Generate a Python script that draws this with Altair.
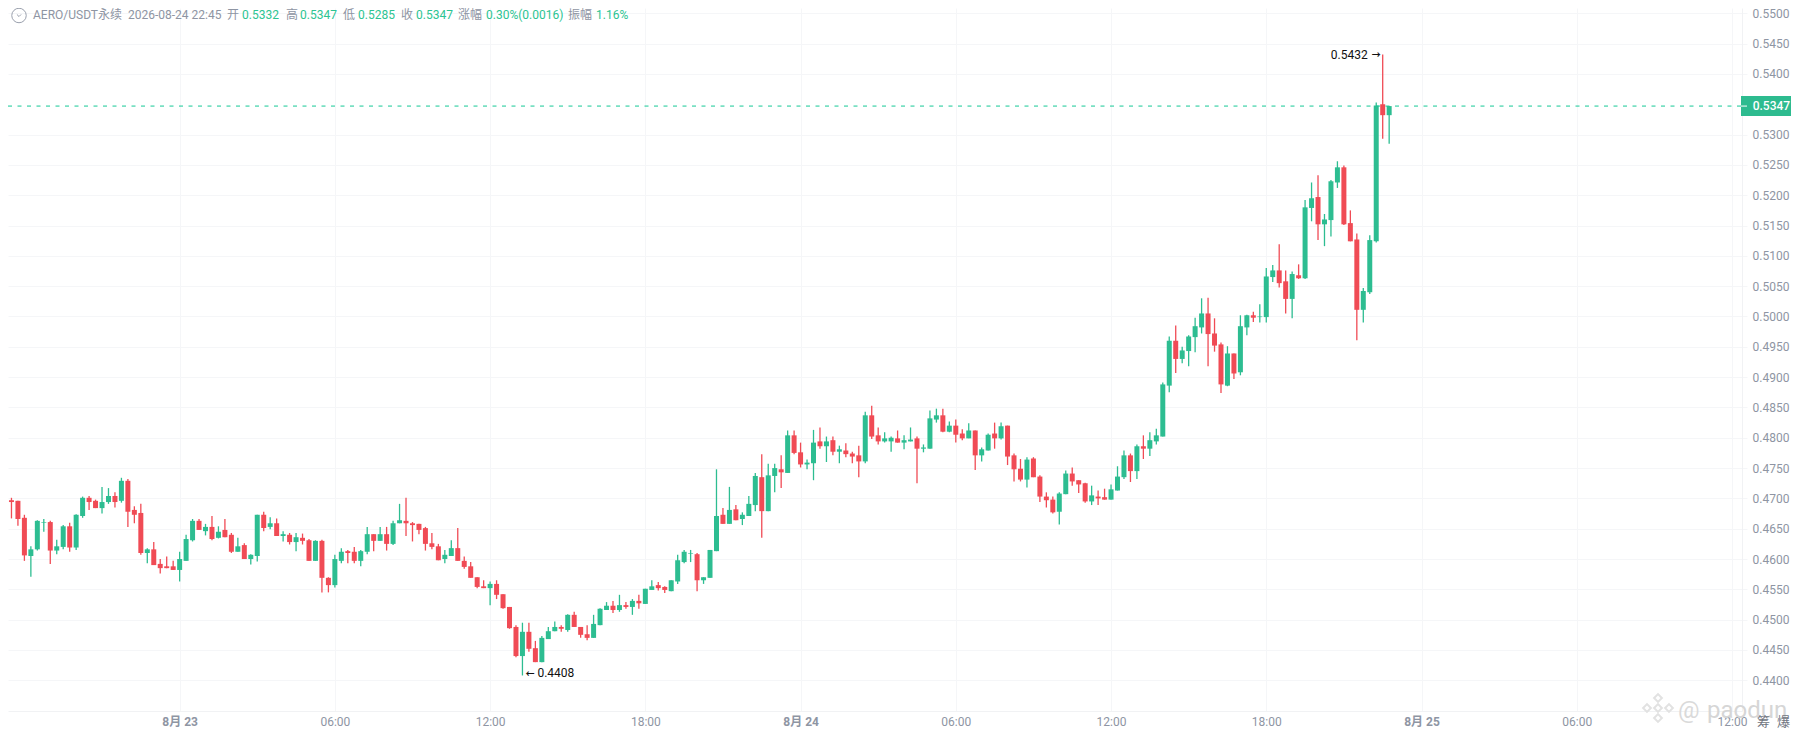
import altair as alt
import pandas as pd

# Prices in units of 0.0001 USDT, one 15-minute candle per entry
OPEN = [4700,4697,4696,4668,4605,4616,4660,4661,4614,4620,
4654,4619,4671,4701,4696,4684,4694,4704,4696,4729,
4681,4676,4610,4616,4592,4588,4588,4582,4597,4631,
4663,4646,4653,4635,4648,4640,4612,4623,4600,4605,
4673,4653,4659,4638,4640,4628,4635,4631,4597,4630,
4569,4557,4597,4613,4612,4597,4612,4641,4630,4641,
4625,4659,4663,4659,4658,4651,4626,4621,4600,4605,
4618,4597,4588,4570,4555,4552,4559,4542,4521,4488,
4440,4480,4453,4430,4468,4481,4488,4483,4508,4488,
4476,4470,4491,4516,4523,4516,4524,4521,4531,4526,
4549,4557,4554,4547,4563,4595,4609,4608,4565,4569,
4613,4673,4658,4682,4666,4671,4689,4735,4679,4737,
4748,4742,4804,4776,4756,4758,4794,4786,4796,4777,
4779,4774,4771,4761,4837,4804,4794,4794,4799,4792,
4794,4799,4782,4782,4830,4837,4810,4820,4807,4799,
4812,4771,4779,4807,4799,4820,4771,4749,4731,4766,
4736,4703,4698,4678,4707,4741,4730,4725,4695,4703,
4702,4698,4713,4735,4771,4745,4786,4782,4794,4802,
4886,4960,4930,4943,4966,4982,5005,4972,4954,4886,
4939,4908,4982,5002,4999,4999,5065,5076,5058,5029,
5068,5063,5179,5197,5152,5159,5221,5246,5154,5127,
5011,5040,5124,5350,5332]
HIGH = [4717,4701,4696,4673,4621,4664,4666,4663,4632,4656,
4660,4674,4703,4704,4698,4719,4717,4710,4734,4732,
4687,4691,4618,4628,4600,4604,4597,4612,4640,4666,
4666,4658,4671,4654,4666,4643,4635,4626,4608,4673,
4678,4669,4667,4646,4643,4643,4642,4633,4631,4632,
4570,4607,4618,4615,4620,4615,4653,4641,4653,4653,
4663,4691,4701,4661,4658,4653,4643,4625,4615,4631,
4651,4604,4595,4570,4565,4563,4565,4542,4521,4491,
4495,4495,4465,4473,4488,4497,4491,4509,4513,4488,
4491,4508,4519,4529,4531,4541,4529,4534,4541,4551,
4565,4562,4555,4565,4607,4615,4615,4610,4570,4615,
4748,4684,4719,4689,4677,4704,4742,4773,4757,4757,
4771,4812,4812,4792,4764,4813,4817,4802,4802,4787,
4791,4777,4787,4843,4853,4817,4809,4802,4812,4804,
4817,4802,4789,4845,4848,4848,4827,4830,4814,4824,
4812,4784,4807,4825,4825,4820,4774,4765,4768,4768,
4738,4710,4703,4710,4746,4751,4730,4726,4721,4713,
4716,4723,4753,4779,4774,4789,4804,4809,4815,4891,
4967,4985,4950,4969,4998,5030,5031,4997,4957,4951,
4939,5002,5003,5008,5020,5080,5085,5119,5076,5074,
5086,5192,5221,5233,5169,5225,5256,5249,5175,5137,
5047,5134,5353,5432,5347]
LOW = [4694,4667,4655,4597,4571,4614,4645,4592,4608,4616,
4612,4615,4668,4681,4684,4675,4691,4685,4693,4653,
4659,4607,4593,4590,4576,4585,4582,4563,4597,4629,
4648,4639,4631,4634,4636,4610,4612,4600,4591,4596,
4646,4649,4638,4629,4624,4613,4624,4597,4597,4545,
4545,4553,4593,4593,4593,4588,4608,4613,4630,4614,
4623,4659,4638,4629,4641,4614,4616,4598,4593,4605,
4597,4584,4569,4552,4552,4524,4534,4518,4485,4438,
4408,4447,4430,4430,4468,4481,4480,4480,4488,4470,
4466,4470,4491,4516,4511,4513,4518,4508,4518,4526,
4549,4548,4544,4547,4559,4593,4595,4547,4559,4569,
4613,4658,4658,4664,4656,4671,4679,4635,4679,4710,
4717,4742,4773,4751,4748,4730,4782,4760,4771,4758,
4768,4758,4735,4758,4798,4789,4792,4777,4792,4781,
4794,4725,4776,4782,4825,4809,4809,4792,4796,4799,
4747,4761,4779,4782,4797,4755,4728,4728,4718,4735,
4694,4685,4675,4657,4707,4721,4709,4693,4689,4689,
4698,4698,4713,4732,4727,4732,4765,4770,4789,4802,
4875,4907,4923,4918,4941,4972,4918,4942,4874,4885,
4897,4903,4969,4991,4990,4990,5057,5048,5005,4997,
5062,5062,5157,5126,5116,5132,5212,5151,5124,4961,
4990,5037,5122,5293,5285]
CLOSE = [4696,4694,4666,4606,4616,4663,4661,4614,4621,4654,
4619,4673,4701,4694,4684,4694,4704,4694,4729,4678,
4673,4610,4616,4590,4585,4585,4582,4600,4633,4663,
4648,4653,4633,4645,4636,4612,4621,4600,4607,4673,
4651,4659,4638,4641,4628,4636,4630,4597,4630,4569,
4557,4600,4612,4610,4597,4613,4641,4630,4641,4625,
4659,4664,4659,4656,4648,4625,4620,4598,4607,4618,
4597,4587,4569,4554,4552,4559,4541,4519,4486,4440,
4480,4452,4430,4470,4481,4488,4485,4508,4488,4475,
4470,4493,4518,4523,4516,4524,4521,4531,4527,4551,
4555,4552,4549,4565,4598,4612,4610,4565,4570,4615,
4671,4658,4681,4664,4673,4691,4737,4679,4738,4750,
4743,4804,4775,4756,4759,4792,4786,4794,4777,4781,
4773,4769,4761,4837,4802,4794,4799,4800,4792,4796,
4797,4782,4784,4832,4837,4810,4820,4805,4799,4812,
4771,4781,4805,4799,4819,4769,4748,4731,4764,4735,
4703,4697,4677,4708,4741,4728,4723,4695,4705,4700,
4698,4715,4736,4771,4745,4786,4782,4796,4804,4888,
4960,4930,4944,4967,4984,5005,4971,4952,4888,4939,
4906,4984,5002,4998,5000,5066,5076,5055,5029,5070,
5063,5180,5195,5152,5160,5223,5246,5152,5124,5011,
5042,5126,5348,5332,5347]

START = "2026-08-22 17:15"
LAST_PRICE = 0.5347
MAX_LABEL = "0.5432"
MIN_LABEL = "0.4408"
X_TICKS = ["2026-08-23 00:00","2026-08-23 06:00","2026-08-23 12:00","2026-08-23 18:00",
           "2026-08-24 00:00","2026-08-24 06:00","2026-08-24 12:00","2026-08-24 18:00",
           "2026-08-25 00:00","2026-08-25 06:00","2026-08-25 12:00"]
Y_TICKS = [0.44,0.445,0.45,0.455,0.46,0.465,0.47,0.475,0.48,0.485,0.49,0.495,
           0.50,0.505,0.51,0.515,0.52,0.525,0.53,0.54,0.545,0.55]
HEADER = [("AERO/USDT\u6c38\u7eed",33,"g"),("2026-08-24 22:45",128,"g"),
          ("\u5f00",227,"g"),("0.5332",242,"c"),("\u9ad8",286,"g"),("0.5347",300,"c"),
          ("\u4f4e",343,"g"),("0.5285",358,"c"),("\u6536",401,"g"),("0.5347",416,"c"),
          ("\u6da8\u5e45",458,"g"),("0.30%(0.0016)",486,"c"),("\u632f\u5e45",568,"g"),("1.16%",596,"c")]

GREEN, RED = "#2dbd91", "#f04b55"
GRAY, HGREEN = "#8e95a3", "#2cc492"
GRID = "#f5f6f8"
FONT = "Roboto, 'Noto Sans CJK SC', sans-serif"
M = 8  # page margin, to convert page pixels to chart pixels


def ms(s):
    return int(pd.Timestamp(s, tz="UTC").value // 10**6)


t = pd.date_range(START, periods=len(OPEN), freq="15min", tz="UTC")
df = pd.DataFrame({
    "t": t.strftime("%Y-%m-%dT%H:%M:%SZ"),
    "open": [v / 10000 for v in OPEN], "high": [v / 10000 for v in HIGH],
    "low": [v / 10000 for v in LOW], "close": [v / 10000 for v in CLOSE],
})
df["dir"] = ["up" if c >= o else "down" for o, c in zip(OPEN, CLOSE)]

xscale = alt.Scale(type="utc", domain=[ms("2026-08-22 17:21:58"), ms("2026-08-25 12:23:15")], padding=0)
yscale = alt.Scale(domain=[0.43494, 0.550874], nice=False, zero=False, padding=0)
colour = alt.Color("dir:N", scale=alt.Scale(domain=["up", "down"], range=[GREEN, RED]), legend=None)

x_axis = alt.Axis(
    values=[ms(v) for v in X_TICKS], title=None, grid=True, gridColor=GRID, gridWidth=1,
    labelExpr="utchours(datum.value)==0 ? '8\u6708 '+utcdate(datum.value) : utcFormat(datum.value,'%H:%M')",
    labelFontWeight=alt.expr("utchours(datum.value)==0 ? 'bold' : 'normal'"),
    labelColor=GRAY, labelFont=FONT, labelFontSize=12, labelPadding=5, tickSize=0,
    domainColor="#f1f2f4", labelOverlap=False, labelFlush=False,
)
y_axis = alt.Axis(
    values=Y_TICKS, orient="right", format=".4f", title=None, grid=True, gridColor=GRID, gridWidth=1,
    labelColor=GRAY, labelFont=FONT, labelFontSize=12, labelPadding=5, tickSize=5, tickColor=GRID,
    domainColor="#f1f2f4", labelOverlap=False, labelFlush=False,
)
X = alt.X("t:T", scale=xscale, axis=x_axis)


def Y(field):
    return alt.Y(field, scale=yscale, axis=y_axis)


base = alt.Chart(df)

wicks = base.mark_rule(strokeWidth=1.3, clip=True).encode(
    x=X, y=Y("low:Q"), y2="high:Q", color=colour)
bodies = base.mark_bar(size=5, clip=True).encode(
    x=X, y=Y("open:Q"), y2="close:Q", color=colour)

one = pd.DataFrame({"p": [LAST_PRICE]})
last_line = alt.Chart(one).mark_rule(color="#14c896", strokeWidth=1, strokeDash=[4, 5.5]).encode(
    x=alt.value(0), x2=alt.value(1734), y=Y("p:Q"))
box = alt.Chart(one).mark_rect(color="#2dbb8f").encode(
    x=alt.value(1741 - M), x2=alt.value(1791 - M), y=alt.value(96 - M), y2=alt.value(116 - M))
stub = alt.Chart(one).mark_rule(color="white", strokeWidth=1).encode(
    x=alt.value(1741 - M), x2=alt.value(1747 - M), y=Y("p:Q"))
box_text = alt.Chart(one).mark_text(text="0.5347", color="white", font=FONT, fontSize=12,
                                    fontWeight=500, align="left", baseline="middle").encode(
    x=alt.value(1752.7 - M), y=Y("p:Q"))

hi_row = df[df["high"] == df["high"].max()]
lo_row = df[df["low"] == df["low"].min()]


def note(row, field, txt, align, dx, dy, size=12, weight="normal"):
    return alt.Chart(row).mark_text(text=txt, color="#111", font=FONT, fontSize=size, fontWeight=weight,
                                    align=align, baseline="middle", dx=dx, dy=dy).encode(
        x=X, y=Y(field))


max_text = note(hi_row, "high:Q", MAX_LABEL, "right", -15, 0)
max_arrow = note(hi_row, "high:Q", "\u2192", "right", -2, 0, 9, "bold")
min_text = note(lo_row, "low:Q", MIN_LABEL, "left", 15, -2)
min_arrow = note(lo_row, "low:Q", "\u2190", "left", 3, -1, 9, "bold")


def label(txt, px, py, color=GRAY, size=12, weight="normal", opacity=1.0):
    return alt.Chart(one).mark_text(text=txt, color=color, font=FONT, fontSize=size, fontWeight=weight,
                                    opacity=opacity, align="left", baseline="middle").encode(
        x=alt.value(px - M), y=alt.value(py - M))


def symbol(shape, px, py, size, color, sw=1.0, filled=False):
    return alt.Chart(one).mark_point(shape=shape, size=size, color=color, strokeWidth=sw,
                                     filled=filled, opacity=1).encode(
        x=alt.value(px - M), y=alt.value(py - M))


extras = [label(txt, px, 15, HGREEN if kind == "c" else GRAY) for txt, px, kind in HEADER]
extras += [symbol("circle", 19, 15.5, 210, "#9aa0ad"),
           symbol("M-0.5,-0.25L0,0.25L0.5,-0.25", 19, 15.5, 70, "#9aa0ad")]
# watermark
for px, py in [(1658, 698), (1647, 708), (1669, 708), (1658, 708), (1658, 718)]:
    extras.append(symbol("diamond", px, py, 60, "#e2e2e2", 2))
extras += [label("@", 1678, 711, "#dadada", 24), label("paodun", 1707, 711, "#d6d6d6", 24),
           label("\u7b79", 1757, 722, "#6f7480", 13), label("\u7206", 1777, 722, "#6f7480", 13)]

chart = alt.layer(wicks, bodies, last_line, box, stub, box_text,
                  max_text, max_arrow, min_text, min_arrow, *extras).properties(
    width=1734, height=703,
    autosize=alt.AutoSizeParams(type="none"),
    padding={"left": 0, "top": 0, "right": 49, "bottom": 17},
    background="white",
).configure_view(stroke=None)

chart.save("out.html", embed_options={"renderer": "svg", "actions": False})
